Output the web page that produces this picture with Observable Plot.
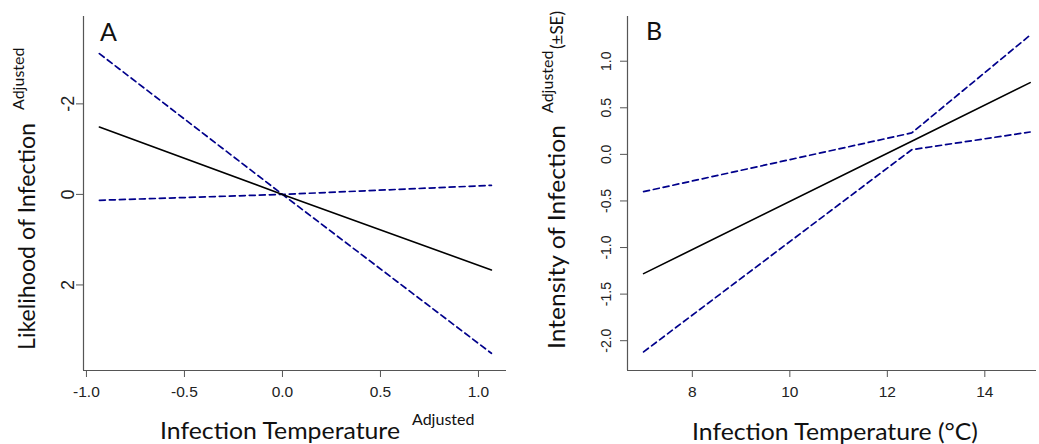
<!DOCTYPE html>
<html><head><meta charset="utf-8">
<script src="https://cdn.jsdelivr.net/npm/d3@7"></script>
<script src="https://cdn.jsdelivr.net/npm/@observablehq/plot@0.6"></script>
<style>
body{margin:0;background:#fff}
#wrap{position:relative;width:1039px;height:444px;overflow:hidden}
#wrap svg{position:absolute;top:0}
</style></head><body><div id="wrap"></div>
<script>
// Panel A data
const xA = [-0.934, 0, 1.066];
const fitA = [-1.49, 0, 1.67];
const upperA = [-3.11, 0, 3.51];
const lowerA = [0.13, 0, -0.20];
const xTicksA = [-1, -0.5, 0, 0.5, 1];
const yTicksA = [-2, 0, 2];

// Panel B data
const xB = [7, 12.5, 14.93];
const fitB = [-1.28, 0.14, 0.77];
const upperB = [-0.40, 0.23, 1.28];
const lowerB = [-2.12, 0.05, 0.24];
const xTicksB = [8, 10, 12, 14];
const yTicksB = [-2, -1.5, -1, -0.5, 0, 0.5, 1];

const AXIS = "#555";
const BLUE = "#00008B";
const TICK_FONT = "'Liberation Sans', Arial, sans-serif";
const TITLE_FONT = "Lato, 'Open Sans', sans-serif";

function pts(xs, ys) { return xs.map((x, i) => ({x, y: ys[i]})); }

function panel(o) {
  const yBottom = o.reverse ? o.yDomain[1] : o.yDomain[0];
  const svg = Plot.plot({
    width: o.width, height: 444,
    marginLeft: o.marginLeft, marginRight: o.marginRight,
    marginTop: 16, marginBottom: 74,
    style: {fontFamily: TICK_FONT, fontSize: "15px", background: "transparent", color: "#222", overflow: "visible"},
    x: {domain: o.xDomain, label: null},
    y: {domain: o.yDomain, reverse: o.reverse, label: null},
    marks: [
      Plot.ruleX([o.xDomain[0]], {stroke: AXIS, strokeWidth: 1.2}),
      Plot.ruleY([yBottom], {stroke: AXIS, strokeWidth: 1.2}),
      Plot.axisX({ticks: o.xTicks, tickSize: 7, tickPadding: 8, tickFormat: o.xFmt, stroke: AXIS, fill: "#222", fontSize: o.xFs, label: null}),
      Plot.axisY({ticks: o.yTicks, tickSize: 7, tickPadding: o.yPad, tickRotate: -90, tickFormat: o.yFmt, stroke: AXIS, fill: "#222", fontSize: o.yFs, label: null}),
      Plot.line(pts(o.x, o.upper), {x: "x", y: "y", stroke: BLUE, strokeWidth: 1.7, strokeDasharray: "6,4"}),
      Plot.line(pts(o.x, o.lower), {x: "x", y: "y", stroke: BLUE, strokeWidth: 1.7, strokeDasharray: "6,4"}),
      Plot.line(pts(o.x, o.fit), {x: "x", y: "y", stroke: "#000", strokeWidth: 1.6})
    ]
  });
  return svg;
}

function addText(svg, parts) {
  const s = d3.select(svg);
  for (const p of parts) {
    const t = s.append("text")
      .attr("transform", `translate(${p.x},${p.y})` + (p.rot ? ` rotate(${p.rot})` : ""))
      .style("font-family", TITLE_FONT)
      .style("font-size", p.size + "px")
      .attr("fill", "#111")
      .attr("text-anchor", "start")
      .text(p.t);
    if (p.len) t.attr("textLength", p.len).attr("lengthAdjust", "spacingAndGlyphs");
  }
}

const wrap = document.getElementById("wrap");

const svgA = panel({
  width: 519, marginLeft: 83, marginRight: 13,
  xDomain: [-1.015, 1.143], yDomain: [-3.93, 3.89], reverse: true,
  xTicks: xTicksA, yTicks: yTicksA,
  xFmt: d => d.toFixed(1), yFmt: d => String(d), yPad: 3, xFs: 15.5, yFs: 18,
  x: xA, fit: fitA, upper: upperA, lower: lowerA
});
svgA.style.left = "0px";
wrap.appendChild(svgA);
addText(svgA, [
  {t: "A", x: 100, y: 41, size: 25},
  {t: "Infection Temperature", x: 160, y: 439, size: 24, len: 240},
  {t: "Adjusted", x: 412, y: 425, size: 16},
  {t: "Likelihood of Infection", x: 35, y: 350, size: 24, rot: -90, len: 227},
  {t: "Adjusted", x: 24, y: 110, size: 16, rot: -90}
]);

const svgB = panel({
  width: 520, marginLeft: 108, marginRight: 3,
  xDomain: [6.67, 15.06], yDomain: [-2.32, 1.48], reverse: false,
  xTicks: xTicksB, yTicks: yTicksB,
  xFmt: d => String(d), yFmt: d => d.toFixed(1), yPad: 10, xFs: 15.5, yFs: 14,
  x: xB, fit: fitB, upper: upperB, lower: lowerB
});
svgB.style.left = "519px";
wrap.appendChild(svgB);
addText(svgB, [
  {t: "B", x: 127, y: 40, size: 25},
  {t: "Infection Temperature (°C)", x: 173, y: 440, size: 24, len: 286},
  {t: "Intensity of Infection", x: 46, y: 349, size: 24, rot: -90, len: 224},
  {t: "Adjusted", x: 34, y: 113, size: 16, rot: -90},
  {t: "(±SE)", x: 44, y: 49, size: 17, rot: -90}
]);
</script></body></html>
